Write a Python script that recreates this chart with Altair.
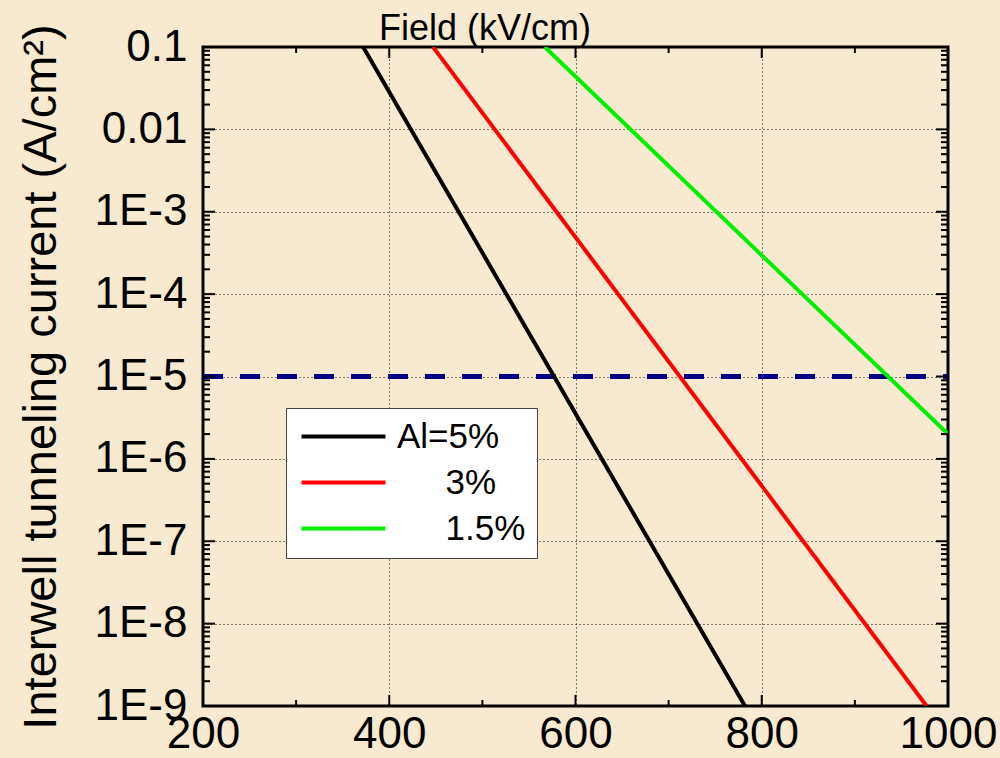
import altair as alt
import pandas as pd

ZW = "\u200b"
NB = "\u00a0"
series_names = ["Al=5%", ZW + NB * 5 + "3%", ZW + NB * 5 + "1.5%"]
series_colors = ["#000000", "#ff0000", "#00ee00"]

black_field = [372, 782]
black_current = [0.1, 1e-9]
red_field = [447, 977]
red_current = [0.1, 1e-9]
green_field = [567, 1000]
green_current = [0.1, 2e-6]

threshold_field = [200, 1000]
threshold_current = [1e-5, 1e-5]

x_major = [200, 400, 600, 800, 1000]
x_minor = [300, 500, 700, 900]
y_major = [1e-9, 1e-8, 1e-7, 1e-6, 1e-5, 1e-4, 1e-3, 1e-2, 1e-1]
y_minor = [m * d for d in [1e-9, 1e-8, 1e-7, 1e-6, 1e-5, 1e-4, 1e-3, 1e-2] for m in range(2, 10)]

W, H = 745, 659
FONT = "Liberation Sans"
YTITLE = "Interwell tunneling current (A/cm²)"

rows = []
for name, xs_, ys_ in zip(series_names,
                          [black_field, red_field, green_field],
                          [black_current, red_current, green_current]):
    for a, b in zip(xs_, ys_):
        rows.append({"series": name, "field": a, "current": b})
df = pd.DataFrame(rows)
df_thr = pd.DataFrame({"field": threshold_field, "current": threshold_current})

xs = alt.Scale(domain=[200, 1000], nice=False, zero=False)
ys = alt.Scale(type="log", domain=[1e-9, 0.1], nice=False)

xaxis = alt.Axis(values=x_major, title=None, grid=True, gridDash=[1, 3], gridColor="black",
                 gridWidth=1, gridOpacity=1, ticks=False, domain=False, labelFont=FONT,
                 labelFontSize=44, labelPadding=6, labelColor="black", format="d",
                 labelOverlap=False, labelFlush=False)
yaxis = alt.Axis(values=y_major, title=YTITLE, grid=True,
                 gridDash=[1, 3], gridColor="black", gridWidth=1, gridOpacity=1, ticks=False,
                 domain=False, labelFont=FONT, labelFontSize=44, labelPadding=16,
                 labelColor="black", labelOverlap=False, labelFlush=False,
                 labelExpr="datum.value > 0.005 ? format(datum.value, '.2~f') : '1E-' + round(-log(datum.value)/LN10)",
                 titleFont=FONT, titleFontSize=47, titleFontWeight="normal", titleColor="black",
                 titlePadding=29)

X = lambda f: alt.X(f + ":Q", scale=xs, axis=xaxis, title=None)
Y = lambda f: alt.Y(f + ":Q", scale=ys, axis=yaxis, title=YTITLE)

lines = alt.Chart(df).mark_line(strokeWidth=4, clip=True).encode(
    x=X("field"),
    y=Y("current"),
    color=alt.Color("series:N", scale=alt.Scale(domain=series_names, range=series_colors),
                    sort=series_names,
                    legend=alt.Legend(orient="none", legendX=83, legendY=361, title=None,
                                      fillColor="white", strokeColor="#444444",
                                      padding=11, symbolType="M-2.8,0H2.8", symbolStrokeWidth=4,
                                      symbolSize=900, symbolOffset=29, labelFont=FONT,
                                      labelFontSize=35, labelColor="black", labelOffset=36,
                                      rowPadding=10, symbolOpacity=1)),
)

thr = alt.Chart(df_thr).mark_line(strokeWidth=5, color="#000080", strokeDash=[20, 17]).encode(
    x=X("field"),
    y=Y("current"),
)

def xticks(vals, length):
    d = pd.DataFrame({"field": vals})
    bot = alt.Chart(d).mark_rule(color="black", strokeWidth=2).encode(
        x=X("field"), y=alt.value(H), y2=alt.value(H - length))
    top = alt.Chart(d).mark_rule(color="black", strokeWidth=2).encode(
        x=X("field"), y=alt.value(0), y2=alt.value(length))
    return [bot, top]

def yticks(vals, length):
    d = pd.DataFrame({"current": vals})
    left = alt.Chart(d).mark_rule(color="black", strokeWidth=2).encode(
        y=Y("current"), x=alt.value(0), x2=alt.value(length))
    right = alt.Chart(d).mark_rule(color="black", strokeWidth=2).encode(
        y=Y("current"), x=alt.value(W), x2=alt.value(W - length))
    return [left, right]

layers = [thr, lines] + xticks(x_major, 11) + xticks(x_minor, 6) + yticks(y_major, 12) + yticks(y_minor, 7)

chart = alt.layer(*layers).properties(
    width=W, height=H,
    title=alt.TitleParams("Field (kV/cm)", anchor="start", frame="group", dx=176, offset=-52,
                          baseline="alphabetic", font=FONT, fontSize=36, fontWeight="normal",
                          color="black"),
    autosize=alt.AutoSizeParams(type="none"),
    padding={"left": 203, "top": 47, "right": 52, "bottom": 52},
    background="#F8EAD0",
).configure_view(stroke="black", strokeWidth=3)

chart.save("out.html", embed_options={"renderer": "svg", "actions": False})
